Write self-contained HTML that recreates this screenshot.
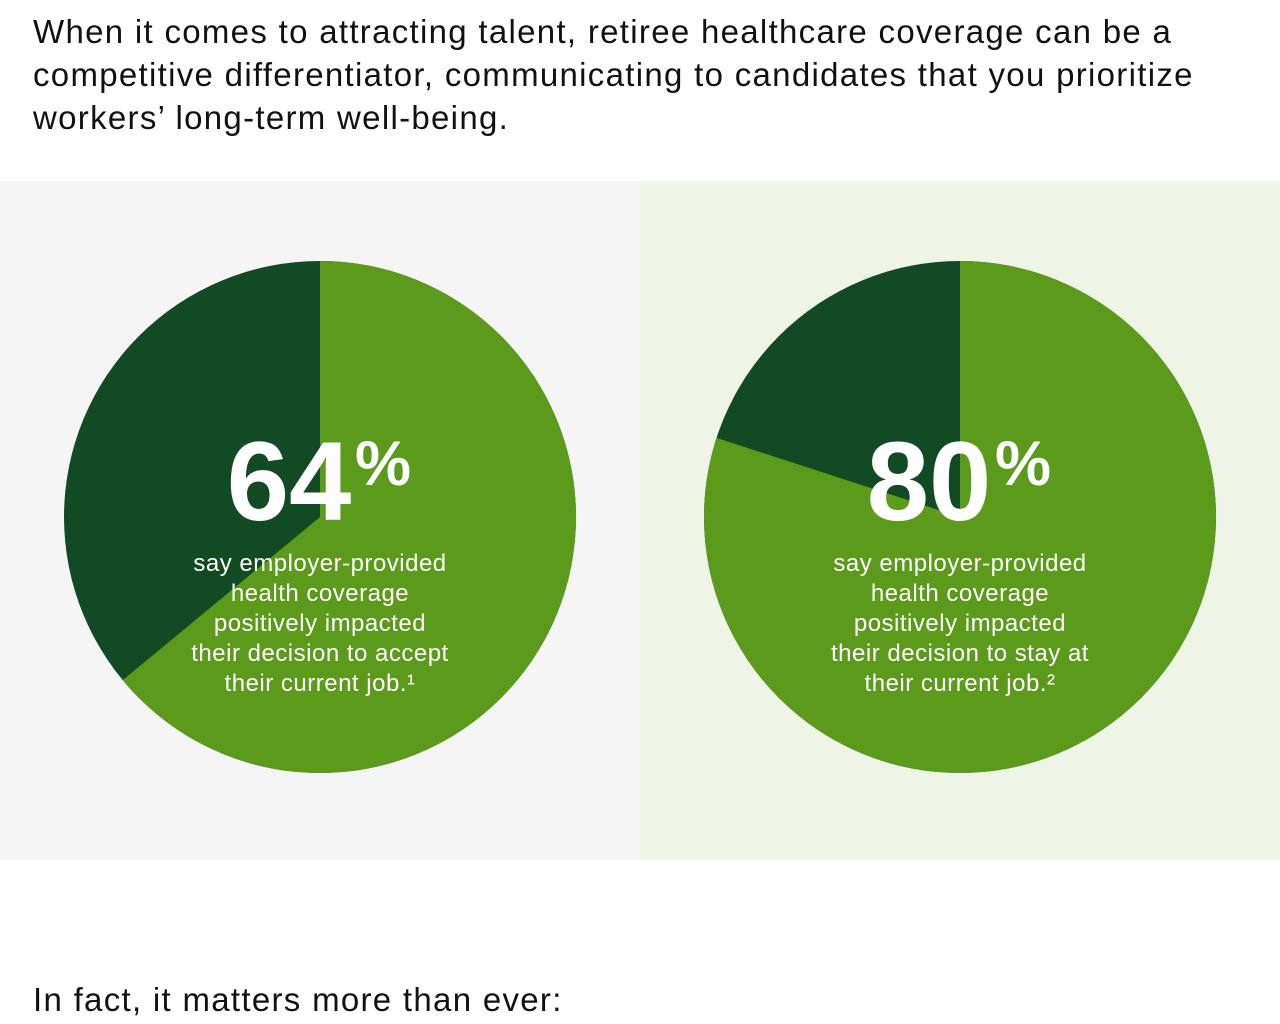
<!DOCTYPE html>
<html><head><meta charset="utf-8">
<style>
html,body{margin:0;padding:0;width:1280px;height:1024px;background:#fff;overflow:hidden;font-family:"Liberation Sans",Arial,sans-serif;}
#intro{position:absolute;left:33px;top:10px;font-size:33px;letter-spacing:1.3px;line-height:43px;color:#111;margin:0;white-space:nowrap;}
#outro{position:absolute;left:33px;top:978px;font-size:33px;letter-spacing:1.3px;line-height:43px;color:#111;margin:0;white-space:nowrap;}
.panel{position:absolute;top:181px;width:640px;height:679px;}
svg{position:absolute;left:0;top:0;}
</style></head><body>
<p id="intro">When it comes to attracting talent, retiree healthcare coverage can be a<br>competitive differentiator, communicating to candidates that you prioritize<br>workers’ long-term well-being.</p>
<div class="panel" style="left:0;background:#f5f5f5"></div>
<div class="panel" style="left:640px;background:#eef4e6"></div>
<svg id="chart" width="1280" height="1024"></svg>
<p id="outro">In fact, it matters more than ever:</p>
<script>
const percentValues = [64, 80];
const captionLines1 = ["say employer-provided","health coverage","positively impacted","their decision to accept","their current job.\u00B9"];
const captionLines2 = ["say employer-provided","health coverage","positively impacted","their decision to stay at","their current job.\u00B2"];
const captions = [captionLines1, captionLines2];
const NS="http://www.w3.org/2000/svg";
const svg=document.getElementById('chart');
const centersX=[320,960], cy=517, R=256;
function pt(cx,frac){const a=frac*2*Math.PI-Math.PI/2;return [cx+R*Math.cos(a),cy+R*Math.sin(a)];}
function mk(tag,attrs){const e=document.createElementNS(NS,tag);for(const k in attrs)e.setAttribute(k,attrs[k]);svg.appendChild(e);return e;}
percentValues.forEach((v,i)=>{
  const cx=centersX[i];
  const c=mk('circle',{cx:cx,cy:cy,r:R,fill:'#124a24'});
  
  
  const f=v/100;const p=pt(cx,f);
  const d=`M${cx},${cy} L${cx},${cy-R} A${R},${R} 0 ${f>0.5?1:0} 1 ${p[0]},${p[1]} Z`;
  const s=mk('path',{d:d,fill:'#5c9a1b'});
  
  
  const t=mk('text',{x:cx-31,y:520,'text-anchor':'middle',fill:'#fff','font-size':'112','font-weight':'bold','font-family':'"Liberation Sans",sans-serif'});
  t.textContent=String(v);
  
  
  const pc=mk('text',{x:cx+63,y:485,'text-anchor':'middle',fill:'#fff','font-size':'63','font-weight':'bold','font-family':'"Liberation Sans",sans-serif'});
  pc.textContent='%';
  
  
  captions[i].forEach((line,j)=>{
    const l=mk('text',{x:cx,y:571+30*j,'text-anchor':'middle',fill:'#fff','font-size':'24','letter-spacing':'0.5','font-family':'"Liberation Sans",sans-serif'});
    l.textContent=line;
    
    
  });
});
</script>
</body></html>
